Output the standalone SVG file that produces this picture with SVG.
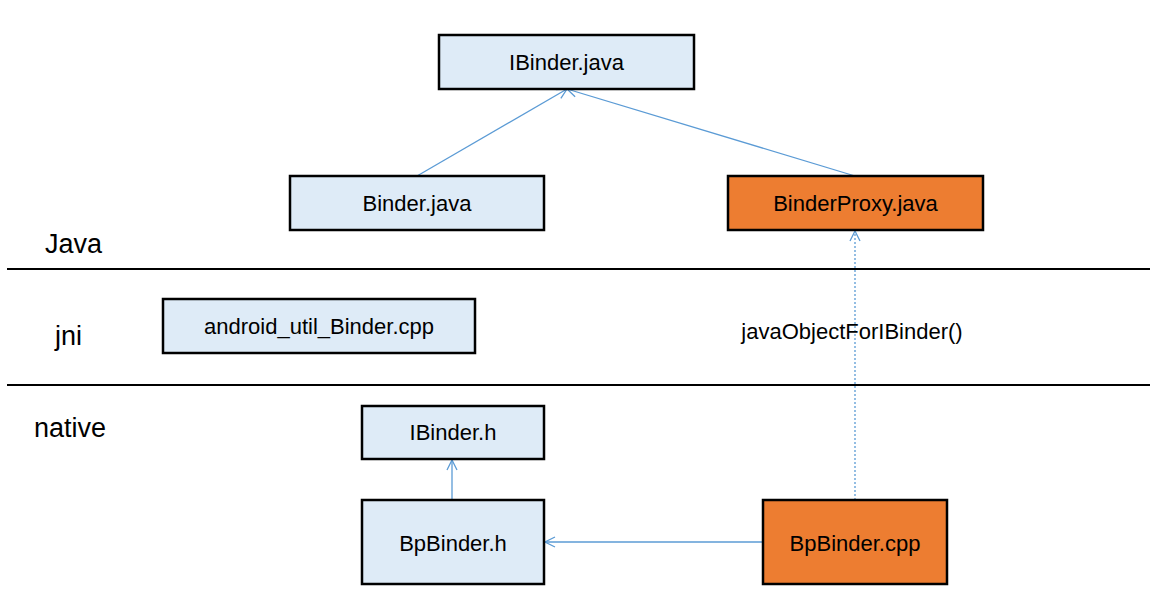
<svg xmlns="http://www.w3.org/2000/svg" width="1158" height="615" viewBox="0 0 1158 615">
<style>
.box{fill:#DEEBF7;stroke:#000;stroke-width:2.5}
.hot{fill:#ED7D31;stroke:#000;stroke-width:2.5}
.t{font-family:"Liberation Sans",Arial,sans-serif;font-size:22px;fill:#000;text-anchor:middle;dominant-baseline:central}
.lab{font-family:"Liberation Sans",Arial,sans-serif;font-size:27px;fill:#000}
.c{stroke:#5B9BD5;stroke-width:1.3;fill:none;marker-end:url(#open)}
.d{stroke-dasharray:2 2}
.sep{stroke:#000;stroke-width:2}
</style>
<defs>
<marker id="open" viewBox="0 0 12 12" refX="11" refY="6" markerWidth="12" markerHeight="12" markerUnits="userSpaceOnUse" orient="auto">
<path d="M1,1 L11,6 L1,11" fill="none" stroke="#5B9BD5" stroke-width="1.3"/>
</marker>
</defs>
<rect width="1158" height="615" fill="#fff"/>
<g id="separators">
<line class="sep" x1="7" y1="269" x2="1150" y2="269"/>
<line class="sep" x1="7" y1="385" x2="1150" y2="385"/>
<text class="lab" x="45" y="253">Java</text>
<text class="lab" x="55" y="345">jni</text>
<text class="lab" x="34" y="437">native</text>
</g>
<g id="connectors">
<line class="c" x1="417" y1="176" x2="567" y2="89"/>
<line class="c" x1="855" y1="176" x2="567" y2="89"/>
<line class="c d" x1="855" y1="500" x2="855" y2="231"/>
<line class="c" x1="452" y1="500" x2="452" y2="460"/>
<line class="c" x1="763" y1="542" x2="545" y2="542"/>
<text class="t" x="852" y="331">javaObjectForIBinder()</text>
</g>
<g id="ibinder-java"><rect class="box" x="439" y="35" width="255" height="54"/><text class="t" x="566.5" y="62">IBinder.java</text></g>
<g id="binder-java"><rect class="box" x="290" y="176" width="254" height="54"/><text class="t" x="417" y="203">Binder.java</text></g>
<g id="binderproxy-java"><rect class="hot" x="728" y="176" width="255" height="54"/><text class="t" x="855.5" y="203">BinderProxy.java</text></g>
<g id="android-util-binder"><rect class="box" x="163" y="299" width="312" height="54"/><text class="t" x="319" y="326">android_util_Binder.cpp</text></g>
<g id="ibinder-h"><rect class="box" x="362" y="406" width="182" height="53"/><text class="t" x="453" y="432.5">IBinder.h</text></g>
<g id="bpbinder-h"><rect class="box" x="362" y="500" width="182" height="84"/><text class="t" x="453" y="543">BpBinder.h</text></g>
<g id="bpbinder-cpp"><rect class="hot" x="763" y="500" width="184" height="84"/><text class="t" x="855" y="543">BpBinder.cpp</text></g>
</svg>
